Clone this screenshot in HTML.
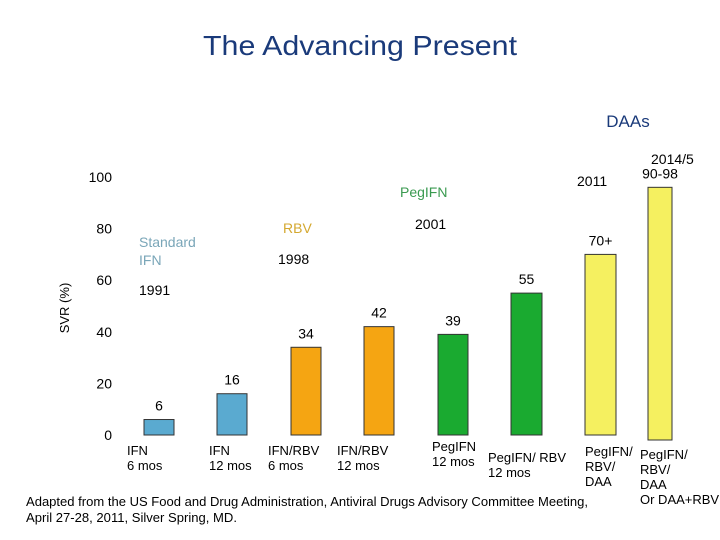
<!DOCTYPE html>
<html><head><meta charset="utf-8"><style>
html,body{margin:0;padding:0;background:#fff;}
svg{display:block;font-family:"Liberation Sans",sans-serif;}
</style></head><body>
<svg id="chart" width="720" height="540" viewBox="0 0 720 540">
<text x="360" y="55" text-anchor="middle" font-size="28" fill="#1a3a7a" textLength="314" lengthAdjust="spacingAndGlyphs">The Advancing Present</text>
<text x="628" y="127" text-anchor="middle" font-size="17" fill="#1a3a7a">DAAs</text>
<text transform="translate(69,308) rotate(-90)" text-anchor="middle" font-size="13" fill="#000">SVR (%)</text>
<g id="yticks"></g>
<g id="bars"></g>
<g font-size="14">
<text x="139" y="247" fill="#7aa6b8">Standard</text>
<text x="139" y="265" fill="#7aa6b8">IFN</text>
<text x="139" y="295" fill="#000">1991</text>
<text x="283" y="233" fill="#d4a830">RBV</text>
<text x="278" y="264" fill="#000">1998</text>
<text x="400" y="197" fill="#3a9a50">PegIFN</text>
<text x="415" y="229" fill="#000">2001</text>
<text x="577" y="186" fill="#000">2011</text>
<text x="651" y="164" fill="#000">2014/5</text>
</g>
<g id="cats" font-size="13" fill="#000"></g>
<text x="26" y="506" font-size="13" fill="#000" textLength="562" lengthAdjust="spacingAndGlyphs">Adapted from the US Food and Drug Administration, Antiviral Drugs Advisory Committee Meeting,</text>
<text x="26" y="522" font-size="13" fill="#000" textLength="211" lengthAdjust="spacingAndGlyphs">April 27-28, 2011, Silver Spring, MD.</text>
</svg>
<script>
const categories=["IFN|6 mos","IFN|12 mos","IFN/RBV|6 mos","IFN/RBV|12 mos","PegIFN|12 mos","PegIFN/ RBV|12 mos","PegIFN/|RBV/|DAA","PegIFN/|RBV/|DAA|Or DAA+RBV"];
const values=[6,16,34,42,39,55,70,96];
const valueLabels=["6","16","34","42","39","55","70+","90-98"];
const colors=["#5aaad0","#5aaad0","#f5a512","#f5a512","#1aaa30","#1aaa30","#f5f060","#f5f060"];
const yTicks=[0,20,40,60,80,100];
const NS="http://www.w3.org/2000/svg";
const base=435, scale=2.58;
const y=v=>base-v*scale;
const xLeft=[144,217,291,364,438,511,585,648];
const barW=[30,30,30,30,30,31,31,24];
const barExtra=[0,0,0,0,0,0,0,5];
const catX=[127,209,268,337,432,488,585,640];
const catY=[455,455,455,455,451,462,456,459];
const gy=document.getElementById('yticks');
yTicks.forEach(t=>{const e=document.createElementNS(NS,'text');


e.setAttribute('x',112);e.setAttribute('y',y(t)+5);e.setAttribute('text-anchor','end');e.setAttribute('font-size','14');e.textContent=t;gy.appendChild(e);});
const gb=document.getElementById('bars');
values.forEach((v,i)=>{
const r=document.createElementNS(NS,'rect');


r.setAttribute('x',xLeft[i]);r.setAttribute('y',y(v));r.setAttribute('width',barW[i]);r.setAttribute('height',v*scale+barExtra[i]);
r.setAttribute('fill',colors[i]);r.setAttribute('stroke','#333');r.setAttribute('stroke-width','1');gb.appendChild(r);
const t=document.createElementNS(NS,'text');


let ly=y(v)-9;if(i===7)ly=y(v)-9;
t.setAttribute('x',xLeft[i]+barW[i]/2);t.setAttribute('y',ly);t.setAttribute('text-anchor','middle');t.setAttribute('font-size','14');t.textContent=valueLabels[i];gb.appendChild(t);
const c=document.createElementNS(NS,'text');


c.setAttribute('x',catX[i]);c.setAttribute('y',catY[i]);
categories[i].split('|').forEach((l,k)=>{const s=document.createElementNS(NS,'tspan');s.setAttribute('x',catX[i]);s.setAttribute('dy',k?15:0);s.textContent=l;c.appendChild(s);});
document.getElementById('cats').appendChild(c);
});
</script>
</body></html>
